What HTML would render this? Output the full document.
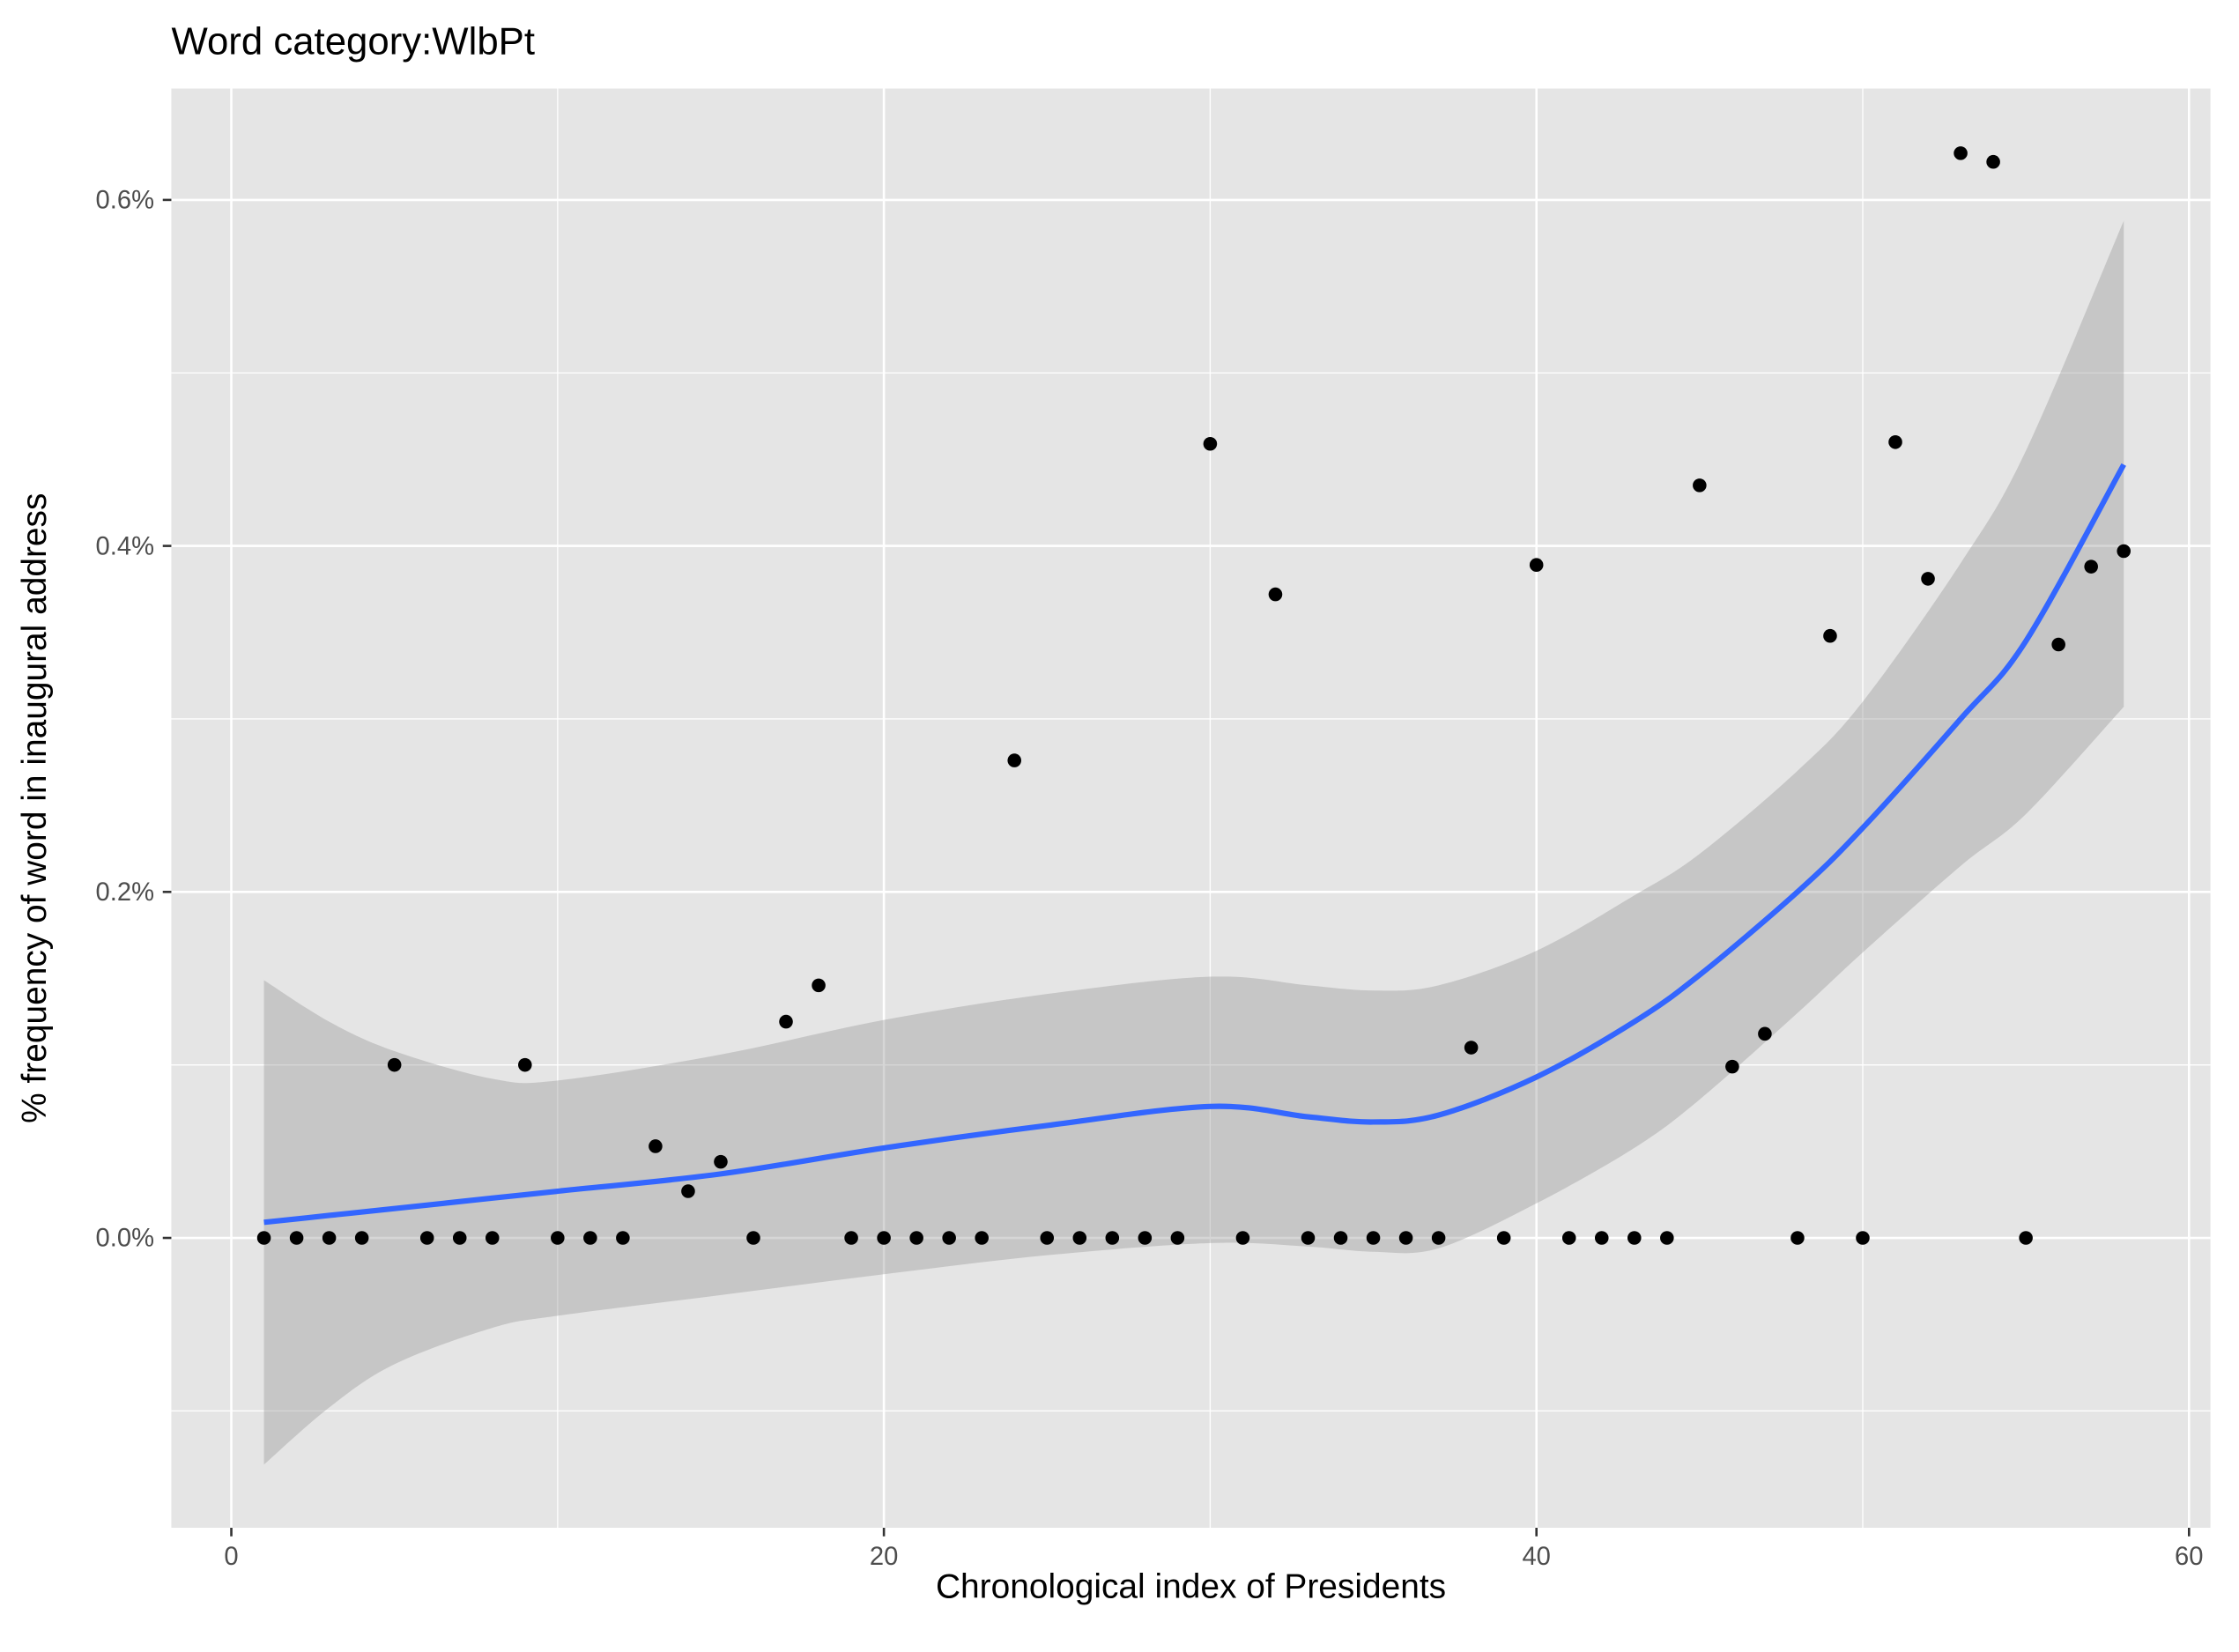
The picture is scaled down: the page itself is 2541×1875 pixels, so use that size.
<!DOCTYPE html>
<html><head><meta charset="utf-8"><style>
html,body{margin:0;padding:0;background:#fff;}
svg{display:block;font-family:"Liberation Sans",Arial,sans-serif;}
</style></head><body>
<svg id="chart" width="2541" height="1875" viewBox="0 0 1568 1157" xmlns="http://www.w3.org/2000/svg">
<text x="120" y="38" font-size="27" fill="#000">Word category:WlbPt</text>
<rect x="120" y="62" width="1428" height="1008" fill="#E5E5E5"/>
<g id="grid"></g>
<g id="band"></g>
<g id="pts"></g>
<g id="fitg"></g>
<g id="axes"></g>
<text x="834" y="1119" font-size="24" text-anchor="middle" fill="#000">Chronological index of Presidents</text>
<text transform="translate(32,566) rotate(-90)" font-size="24" text-anchor="middle" fill="#000">% frequency of word in inaugural address</text>
</svg>
<script>
const xs=[1,2,3,4,5,6,7,8,9,10,11,12,13,14,15,16,17,18,19,20,21,22,23,24,25,26,27,28,29,30,31,32,33,34,35,36,37,38,39,40,41,42,43,44,45,46,47,48,49,50,51,52,53,54,55,56,57,58];
const ys=[0,0,0,0,0.1,0,0,0,0.1,0,0,0,0.053,0.027,0.044,0,0.125,0.146,0,0,0,0,0,0.276,0,0,0,0,0,0.459,0,0.372,0,0,0,0,0,0.110,0,0.389,0,0,0,0,0.435,0.099,0.118,0,0.348,0,0.460,0.381,0.627,0.622,0,0.343,0.388,0.397];
const fitX=[1,3,5,8,10,15,20,25,30,33,35,37,40,43,45,48,50,53,55,58];
const fitY=[0.009,0.013,0.017,0.023,0.027,0.037,0.052,0.065,0.076,0.070,0.067,0.071,0.093,0.125,0.152,0.200,0.237,0.300,0.345,0.447];
const fitHi=[0.149,0.125,0.108,0.092,0.091,0.106,0.126,0.141,0.151,0.146,0.143,0.146,0.166,0.198,0.222,0.270,0.310,0.390,0.455,0.588];
const fitLo=[-0.131,-0.098,-0.073,-0.052,-0.045,-0.033,-0.021,-0.010,-0.003,-0.005,-0.008,-0.006,0.020,0.052,0.080,0.130,0.165,0.215,0.245,0.307];
const xTicks=[0,20,40,60];
const xMinor=[10,30,50];
const yTicks=[0,0.2,0.4,0.6];
const yTickLabels=["0.0%","0.2%","0.4%","0.6%"];
const yMinor=[-0.1,0.1,0.3,0.5];

const NS="http://www.w3.org/2000/svg";
const X=v=>162+v*(1533-162)/60;
const Y=v=>867-v*(867-140)/0.6;
function mk(t,p,a){const e=document.createElementNS(NS,t);for(const k in a)e.setAttribute(k,a[k]);p.appendChild(e);return e;}
const grid=document.getElementById('grid'),axes=document.getElementById('axes');
xMinor.forEach(v=>{const l=mk('line',grid,{x1:X(v),x2:X(v),y1:62,y2:1070,stroke:'#fff','stroke-width':0.8});

});
yMinor.forEach(v=>{const l=mk('line',grid,{x1:120,x2:1548,y1:Y(v),y2:Y(v),stroke:'#fff','stroke-width':0.8});

});
xTicks.forEach(v=>{const l=mk('line',grid,{x1:X(v),x2:X(v),y1:62,y2:1070,stroke:'#fff','stroke-width':1.6});


const t=mk('line',axes,{x1:X(v),x2:X(v),y1:1070,y2:1076,stroke:'#333','stroke-width':1.6});


const tx=mk('text',axes,{x:X(v),y:1096,'font-size':18,'text-anchor':'middle',fill:'#4D4D4D'});tx.textContent=v;

});
yTicks.forEach((v,i)=>{const l=mk('line',grid,{x1:120,x2:1548,y1:Y(v),y2:Y(v),stroke:'#fff','stroke-width':1.6});


const t=mk('line',axes,{x1:114,x2:120,y1:Y(v),y2:Y(v),stroke:'#333','stroke-width':1.6});


const tx=mk('text',axes,{x:108,y:Y(v)+6,'font-size':18,'text-anchor':'end',fill:'#4D4D4D'});tx.textContent=yTickLabels[i];

});
function cr(px,py){let d='';for(let i=0;i<px.length-1;i++){const p0=[px[Math.max(i-1,0)],py[Math.max(i-1,0)]],p1=[px[i],py[i]],p2=[px[i+1],py[i+1]],p3=[px[Math.min(i+2,px.length-1)],py[Math.min(i+2,px.length-1)]];
const c1=[p1[0]+(p2[0]-p0[0])/6,p1[1]+(p2[1]-p0[1])/6],c2=[p2[0]-(p3[0]-p1[0])/6,p2[1]-(p3[1]-p1[1])/6];
d+=' C'+c1+' '+c2+' '+p2;}return d;}
const fx=fitX.map(X);
const hi=fitHi.map(Y),lo=fitLo.map(Y);
const rx=fx.slice().reverse(),rlo=lo.slice().reverse();
const bandD='M'+fx[0]+','+hi[0]+cr(fx,hi)+' L'+rx[0]+','+rlo[0]+cr(rx,rlo)+' Z';
const band=mk('path',document.getElementById('band'),{d:bandD,fill:'#999','fill-opacity':0.4});


xs.forEach((x,i)=>{const c=mk('circle',document.getElementById('pts'),{cx:X(x),cy:Y(ys[i]),r:4.8,fill:'#000'});

});
const fy=fitY.map(Y);
const fl=mk('path',document.getElementById('fitg'),{d:'M'+fx[0]+','+fy[0]+cr(fx,fy),fill:'none',stroke:'#3366FF','stroke-width':3.8});


</script>
</body></html>
